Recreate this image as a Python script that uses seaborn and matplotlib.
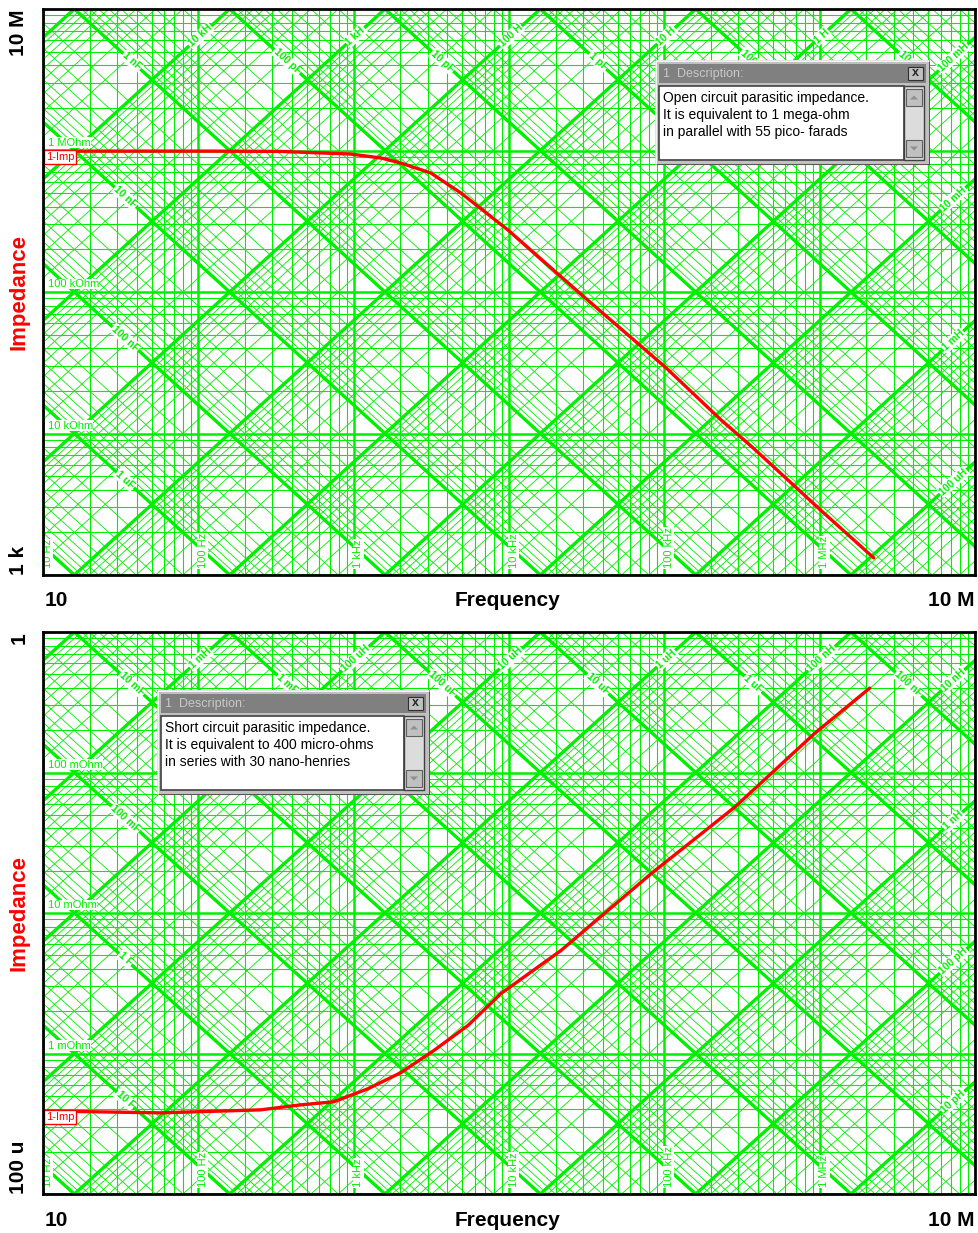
import numpy as np
import pandas as pd
import matplotlib
matplotlib.use("Agg")
import matplotlib.pyplot as plt
import seaborn as sns
from matplotlib import font_manager
from matplotlib.patches import Rectangle, Polygon
from matplotlib.transforms import blended_transform_factory

# open circuit |Z| (upper chart)
open_freq = [10, 125, 338, 955, 1500, 2010, 3140, 4900, 9860, 30500, 103000, 233000,
             364000, 1030000, 2230000]
open_imp = [990e3, 990e3, 985e3, 944e3, 885e3, 816e3, 693e3, 501e3, 274e3, 92e3, 29e3,
            12.4e3, 8.1e3, 2.83e3, 1.32e3]

# short circuit |Z| (lower chart)
short_freq = [10, 57, 251, 455, 743, 1230, 2010, 3280, 5430, 8870, 21600,
              82400, 283000, 929000, 2100000]
short_imp = [3.9e-4, 3.78e-4, 3.97e-4, 4.31e-4, 4.53e-4, 5.6e-4, 7.3e-4, 1.05e-3,
             1.58e-3, 2.67e-3, 5.41e-3, 0.0191, 0.0565, 0.190, 0.399]

freq_range = (10, 1e7)
open_range = (1e3, 1e7)
short_range = (1e-4, 1)

freq_labels = ["10 Hz", "100 Hz", "1 kHz", "10 kHz", "100 kHz", "1 MHz"]
open_ohm_labels = ["10 kOhm", "100 kOhm", "1 MOhm"]
short_ohm_labels = ["1 mOhm", "10 mOhm", "100 mOhm"]

open_desc = ["Open circuit parasitic impedance.",
             "It is equivalent to 1 mega-ohm",
             "in parallel with 55 pico- farads"]
short_desc = ["Short circuit parasitic impedance.",
              "It is equivalent to 400 micro-ohms",
              "in series with 30 nano-henries"]

grid_mult = [1, 2, 3, 4, 5, 6, 7, 8, 9]
diag_mult = [1, 2, 3, 4, 5, 6, 7, 8, 9]

W, H = 979, 1233
sns.set_style("white")
plt.rcParams["font.family"] = ["Liberation Sans", "DejaVu Sans"]
names = {f.name for f in font_manager.fontManager.ttflist}
narrow = "Liberation Sans Narrow" if "Liberation Sans Narrow" in names else "Liberation Sans"
desc_size = 12 if narrow == "Liberation Sans Narrow" else 10

GREEN = "#00ee00"
fig = plt.figure(figsize=(W / 100, H / 100), dpi=100)


def px_axes(l, t, r, b):
    return fig.add_axes([l / W, 1 - b / H, (r - l) / W, (b - t) / H])


def si(v, unit):
    pre = {-15: "f", -12: "p", -9: "n", -6: "u", -3: "m", 0: "", 3: "k", 6: "M"}
    e = int(np.floor(np.log10(v) + 1e-9))
    p = 3 * int(np.floor(e / 3))
    return f"{int(round(v / 10 ** p))} {pre[p]}{unit}"


def chart(ax, zr, freq, imp, ohm_labels, px_w, px_h):
    f0, f1 = freq_range
    z0, z1 = zr
    nx = np.log10(f1 / f0)
    ny = np.log10(z1 / z0)
    ang = np.degrees(np.arctan((px_h / ny) / (px_w / nx)))
    ax.set_xscale("log")
    ax.set_yscale("log")

    # vertical / horizontal grid
    for k in range(1, 7):
        for m in grid_mult:
            ax.axvline(m * 10 ** k, color=GREEN, lw=1.8 if m == 1 else 0.8, zorder=1)
    for k in range(int(np.log10(z0)), int(np.log10(z1))):
        for m in grid_mult:
            ax.axhline(m * 10.0 ** k, color=GREEN, lw=1.8 if m == 1 else 0.8, zorder=1)

    fx = np.array([f0, f1])
    lab = dict(fontsize=7.5, fontweight="bold", color=GREEN, ha="center", va="center",
               rotation_mode="anchor", zorder=3,
               bbox=dict(fc="white", ec="none", pad=0.6))
    for k in range(-22, 8):
        for m in diag_mult:
            c = m * 10.0 ** k
            ax.plot(fx, 1 / (2 * np.pi * fx * c), color=GREEN,
                    lw=2.4 if m == 1 else 0.6, zorder=2)
            ax.plot(fx, 2 * np.pi * fx * c, color=GREEN,
                    lw=2.4 if m == 1 else 0.6, zorder=2)
        c = 10.0 ** k
        # capacitor label
        ft = 1 / (2 * np.pi * c * z1)
        if ft >= f0:
            lx = np.log10(ft) + 0.37
        else:
            lx = np.log10(f0) + 0.53
        fl = 10 ** lx
        zl = 1 / (2 * np.pi * fl * c)
        if f0 * 1.4 < fl < f1 and z0 * 1.3 < zl < z1:
            ax.text(fl, zl, si(c, "F"), rotation=-ang, **lab)
        # inductor label
        ft = z1 / (2 * np.pi * c)
        if ft <= f1:
            lx = np.log10(ft) - 0.19
        else:
            lx = np.log10(f1) - 0.14
        fl = 10 ** lx
        zl = 2 * np.pi * fl * c
        if f0 * 1.4 < fl < f1 and z0 * 1.3 < zl < z1:
            ax.text(fl, zl, si(c, "H"), rotation=ang, **lab)

    tr = blended_transform_factory(ax.transData, ax.transAxes)
    for i, t in enumerate(freq_labels):
        ax.text(10 ** (i + 1) * 1.07, 0.012, t, transform=tr, rotation=90, fontsize=8,
                color=GREEN, ha="center", va="bottom", zorder=3,
                bbox=dict(fc="white", ec="none", pad=0.3))
    tr2 = blended_transform_factory(ax.transAxes, ax.transData)
    for i, t in enumerate(ohm_labels):
        ax.text(0.005, z0 * 10 ** (i + 1) * 1.05, t, transform=tr2, fontsize=8,
                color=GREEN, ha="left", va="bottom", zorder=3,
                bbox=dict(fc="white", ec="none", pad=0.3))

    df = pd.DataFrame({"freq": freq, "imp": imp})
    sns.lineplot(data=df, x="freq", y="imp", ax=ax, color="#ff0000", lw=2.4,
                 zorder=5, estimator=None, sort=False)
    ax.text(0.003, imp[0] * 0.985, "1-Imp", transform=tr2, fontsize=8, color="#ff0000",
            ha="left", va="top", zorder=6,
            bbox=dict(fc="white", ec="#ff0000", lw=1, pad=1.5))

    ax.set_xlim(f0, f1)
    ax.set_ylim(z0, z1)
    ax.set_xticks([])
    ax.set_yticks([])
    ax.minorticks_off()
    ax.set_xlabel("")
    ax.set_ylabel("")
    for s in ax.spines.values():
        s.set_color("black")
        s.set_linewidth(2)
        s.set_zorder(10)


def dialog(x0, y0, w, h, lines):
    a = px_axes(x0, y0, x0 + w, y0 + h)
    a.set_xlim(0, w)
    a.set_ylim(h, 0)
    a.axis("off")
    a.set_zorder(20)
    a.add_patch(Rectangle((0, 0), w, h, fc="#c0c0c0", ec="#404040", lw=1.2))
    a.plot([1, 1, w - 1], [h - 1, 1, 1], color="white", lw=1.2)
    a.add_patch(Rectangle((4, 4), w - 8, 19, fc="#808080", ec="none"))
    a.text(8, 14, "1  Description:", color="#c8c8c8", fontsize=desc_size - 1,
           family=narrow, va="center", ha="left")
    a.add_patch(Rectangle((w - 22, 7), 15, 13, fc="#c0c0c0", ec="#303030", lw=0.8))
    a.text(w - 14.5, 13.5, "x", fontsize=9, fontweight="bold", ha="center", va="center")
    a.add_patch(Rectangle((4, 26), w - 30, h - 31, fc="white", ec="#404040", lw=1.2))
    a.add_patch(Rectangle((w - 26, 26), 20, h - 31, fc="#dcdcdc", ec="#404040", lw=1.0))
    for by, up in [(29, True), (h - 25, False)]:
        a.add_patch(Rectangle((w - 24, by), 16, 17, fc="#c0c0c0", ec="#606060", lw=0.8))
        cx, cy = w - 16, by + 8.5
        tri = [(cx - 4, cy + 2), (cx + 4, cy + 2), (cx, cy - 2)] if up else \
              [(cx - 4, cy - 2), (cx + 4, cy - 2), (cx, cy + 2)]
        a.add_patch(Polygon(tri, fc="#909090", ec="none"))
    for i, t in enumerate(lines):
        a.text(8, 38 + 16.8 * i, t, fontsize=desc_size, family=narrow,
               color="black", ha="left", va="center")


ax1 = px_axes(43, 9, 975, 575)
chart(ax1, open_range, open_freq, open_imp, open_ohm_labels, 932, 566)
ax2 = px_axes(43, 632, 975, 1194)
chart(ax2, short_range, short_freq, short_imp, short_ohm_labels, 932, 562)

big = dict(fontsize=15, fontweight="bold", color="black")
for top, bot, lo, hi in [(9, 575, "1 k", "10 M"), (632, 1194, "100 u", "1")]:
    fig.text(19 / W, 1 - top / H, hi, rotation=90, ha="center", va="top", **big)
    fig.text(19 / W, 1 - bot / H, lo, rotation=90, ha="center", va="bottom", **big)
    fig.text(19 / W, 1 - (top + bot) / 2 / H, "Impedance", rotation=90, ha="center",
             va="center", fontsize=16, fontweight="bold", color="#ff0000")
    ty = 1 - (bot + 26) / H
    fig.text(45 / W, ty, "10", ha="left", va="center", **big)
    fig.text(975 / W, ty, "10 M", ha="right", va="center", **big)
    fig.text(508 / W, ty, "Frequency", ha="center", va="center", **big)

dialog(655, 60, 275, 105, open_desc)
dialog(157, 690, 273, 105, short_desc)

fig.savefig("out.png", dpi=100, facecolor="white")
